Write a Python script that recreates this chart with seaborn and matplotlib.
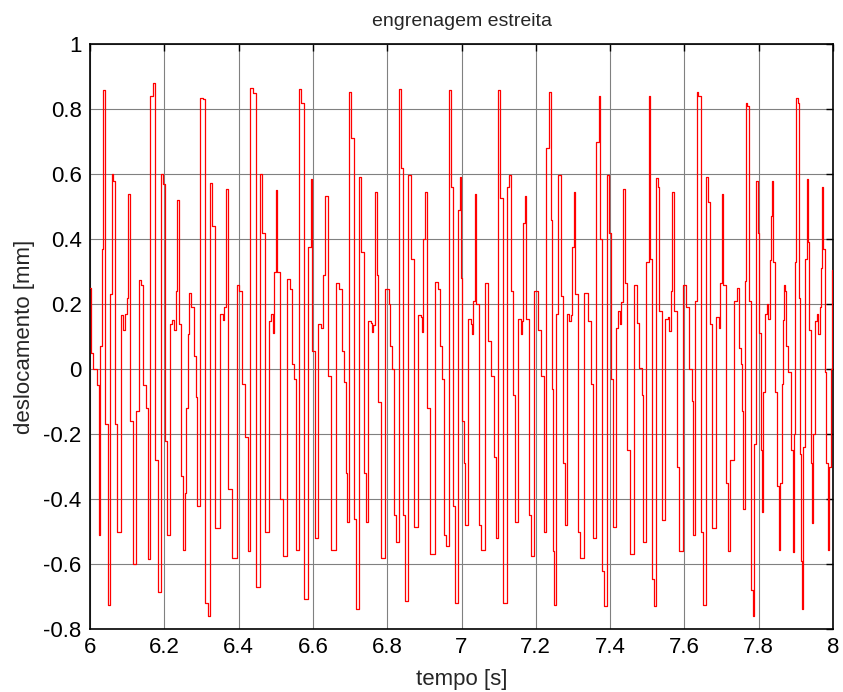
import matplotlib
matplotlib.use("Agg")
import matplotlib.pyplot as plt
import seaborn as sns
import pandas as pd
import numpy as np
from matplotlib.ticker import FixedLocator

# ---- data (time [s], displacement [mm]) ----
tempo_s = [
    6.0000, 6.0027, 6.0152, 6.0224, 6.0251, 6.0296, 6.0332, 6.0386, 6.0448, 6.0520,
    6.0565, 6.0601, 6.0646, 6.0673, 6.0807, 6.0852, 6.0924, 6.0960, 6.1013, 6.1040,
    6.1103, 6.1211, 6.1283, 6.1345, 6.1390, 6.1480, 6.1552, 6.1578, 6.1659, 6.1722,
    6.1794, 6.1857, 6.1946, 6.1982, 6.2036, 6.2108, 6.2188, 6.2250, 6.2287, 6.2332,
    6.2359, 6.2422, 6.2484, 6.2540, 6.2558, 6.2602, 6.2647, 6.2692, 6.2755, 6.2827,
    6.2872, 6.2899, 6.3006, 6.3051, 6.3154, 6.3195, 6.3275, 6.3302, 6.3437, 6.3545,
    6.3589, 6.3617, 6.3679, 6.3769, 6.3886, 6.4002, 6.4038, 6.4128, 6.4218, 6.4262,
    6.4352, 6.4397, 6.4514, 6.4621, 6.4648, 6.4774, 6.4846, 6.4891, 6.4940, 6.4975,
    6.5030, 6.5061, 6.5151, 6.5231, 6.5366, 6.5393, 6.5455, 6.5510, 6.5580, 6.5662,
    6.5707, 6.5814, 6.5931, 6.5958, 6.6011, 6.6101, 6.6200, 6.6245, 6.6290, 6.6380,
    6.6443, 6.6532, 6.6694, 6.6730, 6.6819, 6.6873, 6.6900, 6.6927, 6.7017, 6.7052,
    6.7142, 6.7187, 6.7286, 6.7322, 6.7411, 6.7447, 6.7536, 6.7572, 6.7599, 6.7626,
    6.7707, 6.7734, 6.7779, 6.7868, 6.8021, 6.8057, 6.8093, 6.8165, 6.8227, 6.8254,
    6.8362, 6.8389, 6.8470, 6.8506, 6.8631, 6.8658, 6.8775, 6.8882, 6.8918, 6.8954,
    6.8990, 6.9035, 6.9107, 6.9214, 6.9367, 6.9394, 6.9439, 6.9510, 6.9574, 6.9600,
    6.9708, 6.9735, 6.9815, 6.9851, 6.9942, 6.9969, 6.9987, 7.0032, 7.0076, 7.0103,
    7.0229, 7.0256, 7.0283, 7.0328, 7.0390, 7.0417, 7.0507, 7.0543, 7.0704, 7.0749,
    7.0857, 7.0911, 7.0929, 7.1027, 7.1045, 7.1180, 7.1270, 7.1306, 7.1333, 7.1422,
    7.1467, 7.1575, 7.1602, 7.1646, 7.1691, 7.1736, 7.1763, 7.1844, 7.1871, 7.2050,
    7.2095, 7.2185, 7.2239, 7.2324, 7.2382, 7.2418, 7.2445, 7.2481, 7.2507, 7.2570,
    7.2624, 7.2660, 7.2687, 7.2759, 7.2795, 7.2884, 7.2920, 7.2956, 7.3010, 7.3046,
    7.3091, 7.3180, 7.3207, 7.3387, 7.3423, 7.3540, 7.3566, 7.3674, 7.3710, 7.3737,
    7.3835, 7.3853, 7.3961, 7.3997, 7.4033, 7.4123, 7.4212, 7.4240, 7.4285, 7.4303,
    7.4374, 7.4419, 7.4508, 7.4553, 7.4715, 7.4751, 7.4822, 7.4885, 7.4913, 7.5030,
    7.5056, 7.5092, 7.5164, 7.5191, 7.5281, 7.5307, 7.5343, 7.5433, 7.5523, 7.5577,
    7.5613, 7.5657, 7.5702, 7.5738, 7.5837, 7.5882, 7.6016, 7.6061, 7.6169, 7.6223,
    7.6259, 7.6330, 7.6357, 7.6402, 7.6492, 7.6528, 7.6626, 7.6671, 7.6707, 7.6779,
    7.6913, 7.6940, 7.6985, 7.7030, 7.7066, 7.7156, 7.7210, 7.7266, 7.7390, 7.7430,
    7.7497, 7.7542, 7.7569, 7.7587, 7.7650, 7.7676, 7.7721, 7.7748, 7.7838, 7.7856,
    7.7901, 7.7928, 7.7946, 7.7991, 7.8035, 7.8062, 7.8107, 7.8143, 7.8188, 7.8233,
    7.8278, 7.8305, 7.8350, 7.8376, 7.8412, 7.8466, 7.8511, 7.8556, 7.8592, 7.8637,
    7.8663, 7.8690, 7.8726, 7.8753, 7.8825, 7.8888, 7.8933, 7.8960, 7.8996, 7.9022,
    7.9067, 7.9094, 7.9130, 7.9157, 7.9184, 7.9220, 7.9265, 7.9309, 7.9336, 7.9381,
    7.9408, 7.9444, 7.9489, 7.9543, 7.9588, 7.9624, 7.9651, 7.9677, 7.9722, 7.9758,
    7.9794, 7.9830, 7.9875, 7.9920, 7.9964, 8.0000,
]

deslocamento_mm = [
    0.25, 0.05, 0.00, -0.05, -0.51, 0.07, 0.37, 0.86, -0.17, -0.725,
    0.23, 0.60, 0.58, -0.17, -0.50, 0.165, 0.12, 0.17, 0.22, 0.54,
    -0.16, -0.60, -0.13, 0.275, 0.26, -0.05, -0.12, -0.585, 0.84, 0.88,
    -0.28, -0.685, 0.60, 0.57, -0.22, -0.51, 0.14, 0.15, 0.12, 0.24,
    0.52, 0.14, -0.33, -0.557, -0.38, -0.12, 0.107, 0.235, 0.19, 0.04,
    -0.085, -0.42, 0.835, 0.83, -0.72, -0.76, 0.573, 0.44, -0.49, 0.17,
    0.15, 0.19, 0.555, -0.37, -0.58, 0.26, 0.24, -0.045, -0.21, -0.56,
    0.866, 0.85, -0.67, 0.60, 0.42, -0.50, 0.148, 0.168, 0.11, 0.30,
    0.55, 0.30, -0.40, -0.575, 0.276, 0.247, 0.014, -0.03, -0.557, 0.862,
    0.82, -0.708, 0.375, 0.585, 0.055, -0.52, 0.14, 0.125, 0.29, 0.532,
    -0.02, -0.557, 0.265, 0.247, 0.054, -0.04, -0.32, -0.47, 0.852, 0.71,
    -0.46, -0.737, 0.59, 0.36, -0.32, -0.47, 0.148, 0.143, 0.113, 0.136,
    0.544, 0.29, -0.10, -0.58, 0.247, 0.20, 0.07, 0.0, -0.45, -0.533,
    0.862, 0.62, -0.45, -0.714, 0.596, 0.34, -0.487, 0.165, 0.160, 0.113,
    0.40, 0.544, -0.12, -0.568, 0.268, 0.247, 0.07, -0.03, -0.51, -0.545,
    0.858, 0.56, -0.42, -0.72, 0.49, 0.59, 0.28, -0.16, -0.29, -0.48,
    0.153, 0.14, 0.107, 0.21, 0.54, 0.20, -0.48, -0.557, 0.265, 0.085,
    -0.02, -0.27, -0.52, 0.858, 0.525, -0.72, 0.56, 0.596, 0.24, -0.08,
    -0.47, 0.154, 0.107, 0.148, 0.45, 0.532, 0.155, -0.45, -0.574, 0.24,
    0.12, -0.02, -0.50, 0.68, 0.852, 0.46, -0.06, -0.56, -0.725, 0.17,
    0.596, 0.596, 0.225, -0.29, -0.48, 0.17, 0.148, 0.165, 0.375, 0.544,
    0.23, -0.50, -0.58, 0.235, 0.148, -0.045, -0.52, 0.70, 0.84, 0.40,
    -0.62, -0.73, 0.596, 0.42, -0.03, -0.487, 0.125, 0.177, 0.14, 0.205,
    0.555, 0.265, -0.25, -0.568, 0.259, 0.142, 0.002, -0.08, -0.533, 0.33,
    0.84, 0.34, -0.647, -0.73, 0.587, 0.56, 0.177, -0.464, 0.154, 0.16,
    0.118, 0.24, 0.544, 0.18, -0.30, -0.56, 0.259, 0.19, 0.0, -0.097,
    -0.51, 0.21, 0.852, 0.84, -0.50, -0.725, 0.59, 0.515, 0.14, -0.49,
    0.16, 0.125, 0.265, 0.538, 0.258, -0.35, -0.56, -0.28, 0.21, 0.25,
    0.066, 0.014, -0.13, -0.43, 0.27, 0.82, 0.81, 0.21, -0.68, -0.76,
    -0.23, 0.29, 0.58, 0.42, 0.11, -0.25, -0.44, -0.07, 0.17, 0.20,
    0.154, 0.335, 0.47, 0.58, 0.33, -0.07, -0.36, -0.557, -0.35, -0.045,
    0.15, 0.258, 0.24, 0.07, -0.01, -0.25, -0.562, -0.20, 0.33, 0.835,
    0.817, 0.22, -0.26, -0.59, -0.737, -0.24, 0.34, 0.585, 0.39, 0.12,
    -0.29, -0.475, -0.20, 0.148, 0.17, 0.107, 0.19, 0.31, 0.56, 0.37,
    -0.01, -0.29, -0.557, -0.30, 0.0, 0.305,
]

x_ticks = [6.0, 6.2, 6.4, 6.6, 6.8, 7.0, 7.2, 7.4, 7.6, 7.8, 8.0]
x_tick_labels = ["6", "6.2", "6.4", "6.6", "6.8", "7", "7.2", "7.4", "7.6", "7.8", "8"]
y_ticks = [-0.8, -0.6, -0.4, -0.2, 0.0, 0.2, 0.4, 0.6, 0.8, 1.0]
y_tick_labels = ["-0.8", "-0.6", "-0.4", "-0.2", "0", "0.2", "0.4", "0.6", "0.8", "1"]

df = pd.DataFrame({"tempo": tempo_s, "desloc": deslocamento_mm})

sns.set_style("white")
plt.rcParams["font.family"] = ["Liberation Sans", "DejaVu Sans"]

fig = plt.figure(figsize=(8.43, 6.92), dpi=100)
ax = fig.add_axes([90 / 843, 1 - 629 / 692, (833 - 90) / 843, (629 - 44) / 692])

sns.lineplot(data=df, x="tempo", y="desloc", ax=ax, color="#ff0000",
             linewidth=0.9, estimator=None, sort=False, zorder=3,
             drawstyle="steps-mid")

ax.set_xlim(6.0, 8.0)
ax.set_ylim(-0.8, 1.0)
ax.xaxis.set_major_locator(FixedLocator(x_ticks))
ax.yaxis.set_major_locator(FixedLocator(y_ticks))
ax.set_xticklabels(x_tick_labels)
ax.set_yticklabels(y_tick_labels)

ax.grid(True, color="#808080", linewidth=0.8, linestyle="-", zorder=0)
ax.set_axisbelow(True)

for s in ax.spines.values():
    s.set_visible(True)
    s.set_color("black")
    s.set_linewidth(1.2)

ax.tick_params(axis="both", direction="in", length=5, width=1.0, colors="black",
               top=True, right=True, labelsize=16, pad=6)

ax.set_xlabel("tempo [s]", fontsize=16, labelpad=8)
ax.set_ylabel("deslocamento [mm]", fontsize=16, labelpad=6)
ax.set_title("engrenagem estreita", fontsize=14, pad=13)

fig.savefig("out.png", dpi=100)
